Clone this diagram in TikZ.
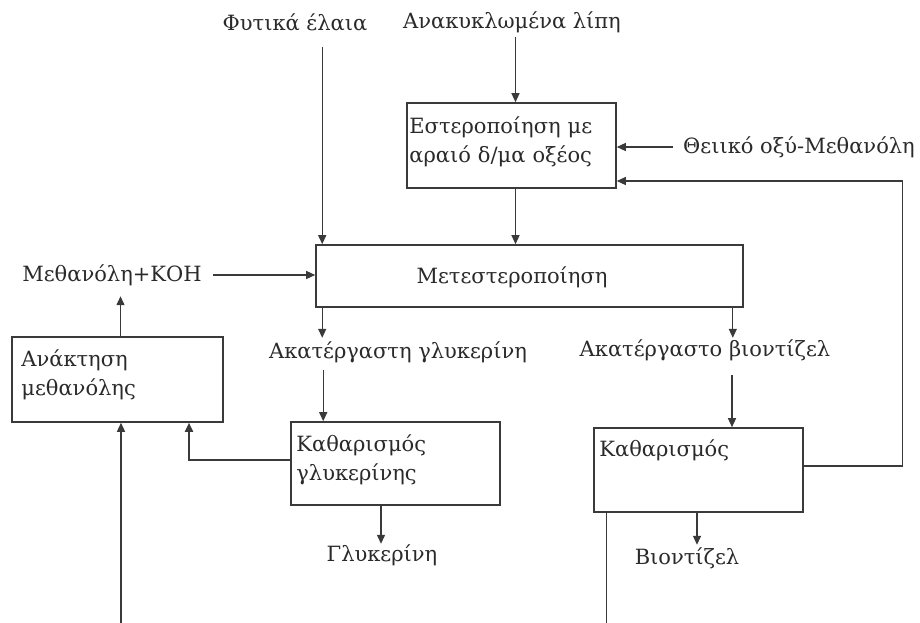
\documentclass[tikz,border=0pt]{standalone}
\usepackage{fontspec}
\setmainfont{DejaVu Serif}
\usetikzlibrary{arrows.meta}
\definecolor{ink}{HTML}{2A2A2A}
\definecolor{edge}{HTML}{3A3A3A}
\tikzset{
  txt/.style={font=\fontsize{21}{29}\selectfont, text=ink, inner sep=0pt},
  boxtxt/.style={txt, anchor=base west, align=left},
  pbox/.style={draw=edge, line width=1.6pt, inner sep=0pt},
  arr/.style={draw=edge, line width=1.3pt, -{Triangle[length=9pt,width=8pt]}},
  ln/.style={draw=edge, line width=1.3pt},
}
\begin{document}
\begin{tikzpicture}[x=1pt,y=-1pt]
\useasboundingbox[fill=white] (0,0) rectangle (920,623);

% boxes
\node[pbox, minimum width=209pt, minimum height=85pt] (es) at (511.5,145.5) {};
\node[pbox, minimum width=427pt, minimum height=62pt] (mt) at (529.5,276) {};
\node[pbox, minimum width=211pt, minimum height=85pt] (an) at (117.5,379.5) {};
\node[pbox, minimum width=209pt, minimum height=83pt] (gl) at (395.5,463.5) {};
\node[pbox, minimum width=209pt, minimum height=84pt] (ka) at (698.5,470) {};

% box texts
\node[boxtxt, text width=205pt] (est) at ([shift={(3pt,-31pt)}]es.north west) {Εστεροποίηση με\\αραιό δ/μα οξέος};
\node[txt] (mtt) at (512,277) {Μετεστεροποίηση};
\node[boxtxt, text width=200pt] (ant) at ([shift={(10pt,-30pt)}]an.north west) {Ανάκτηση\\μεθανόλης};
\node[boxtxt, text width=200pt] (glt) at ([shift={(6pt,-30pt)}]gl.north west) {Καθαρισμός\\γλυκερίνης};
\node[boxtxt, text width=200pt] (kat) at ([shift={(6pt,-29pt)}]ka.north west) {Καθαρισμός};

% free labels
\node[txt] (fe) at (295,22) {Φυτικά έλαια};
\node[txt] (al) at (512,22) {Ανακυκλωμένα λίπη};
\node[txt] (th) at (799,147) {Θειικό οξύ-Μεθανόλη};
\node[txt] (mk) at (112,275) {Μεθανόλη+ΚΟΗ};
\node[txt] (ag) at (398,352) {Ακατέργαστη γλυκερίνη};
\node[txt] (ab) at (705,350) {Ακατέργαστο βιοντίζελ};
\node[txt] (gly) at (382,555) {Γλυκερίνη};
\node[txt] (bio) at (687,558) {Βιοντίζελ};

% connectors
\draw[arr] ([xshift=7pt]mt.north west |- 0,47) -- ([xshift=7pt]mt.north west);
\draw[arr] ([xshift=4pt]es.north |- 0,37) -- ([xshift=4pt]es.north);
\draw[arr] (673,147) -- (th.west -| es.east);
\draw[arr] ([yshift=4pt]ka.east) -- ++(99,0) |- ([yshift=-35.5pt]es.east);
\draw[arr] ([xshift=4pt]es.south) -- ([xshift=4pt]es.south |- mt.north);
\draw[arr] (213,275) -- (mk.east -| mt.west);
\draw[arr] ([xshift=3pt]an.north) -- ++(0,-40);
\draw[arr] ([xshift=7pt]mt.south west) -- ++(0,30);
\draw[arr] ([xshift=33pt,yshift=51pt]gl.north west) -- ([xshift=33pt]gl.north west);
\draw[arr] ([xshift=-11pt]mt.south east) -- ++(0,30);
\draw[arr] ([xshift=33.5pt,yshift=52pt]ka.north) -- ([xshift=33.5pt]ka.north);
\draw[arr, line width=1.8pt] ([yshift=3.5pt]gl.west) -| ([xshift=71.5pt]an.south);
\draw[arr] ([xshift=3.5pt]an.south |- 0,623) -- ([xshift=3.5pt]an.south);
\draw[ln] ([xshift=13pt]ka.south west) -- ++(0,111);
\draw[arr] ([xshift=-14.5pt]gl.south) -- ++(0,38);
\draw[arr] ([xshift=-1.5pt]ka.south) -- ++(0,32);
\end{tikzpicture}
\end{document}
